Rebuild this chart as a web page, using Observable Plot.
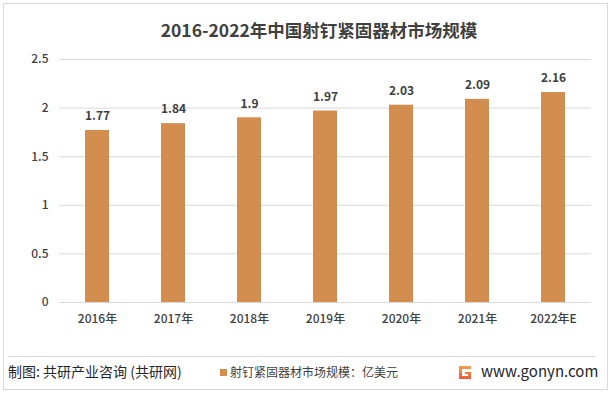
<!DOCTYPE html>
<html><head><meta charset="utf-8">
<script src="https://cdn.jsdelivr.net/npm/d3@7"></script>
<script src="https://cdn.jsdelivr.net/npm/@observablehq/plot@0.6"></script>
<style>
body{margin:0;background:#fff;font-family:"Noto Sans CJK SC","Noto Sans",sans-serif;}
#wrap{position:relative;width:612px;height:393px;overflow:hidden;background:#fff;}
#frame{position:absolute;left:3px;top:3px;width:603px;height:385px;border:1px solid #d9d9d9;}
#title{position:absolute;left:13px;top:17px;width:612px;text-align:center;font-size:17.5px;font-weight:bold;color:#404040;}
#chart{position:absolute;left:0;top:40px;}
#sep{position:absolute;left:8px;top:356px;width:587px;height:1px;background:#d9d9d9;}
.foot{position:absolute;top:361px;font-size:14px;color:#262626;white-space:nowrap;}
#legend{position:absolute;left:220px;top:363px;font-size:12px;color:#404040;white-space:nowrap;}
#legend span{display:inline-block;width:7px;height:7px;background:#D38D4E;margin-right:3px;vertical-align:1px;}
#logo{position:absolute;left:458px;top:364px;width:14px;height:16px;}
#site{position:absolute;left:481px;top:360px;font-size:15px;color:#262626;}
</style></head>
<body>
<div id="wrap">
<div id="frame"></div>
<div id="title">2016-2022年中国射钉紧固器材市场规模</div>
<div id="chart"></div>
<div id="sep"></div>
<div class="foot" style="left:8px;">制图: 共研产业咨询 (共研网)</div>
<div id="legend"><span></span>射钉紧固器材市场规模：亿美元</div>
<svg id="logo" viewBox="0 0 14 16"><defs><linearGradient id="lg" x1="0" y1="0" x2="0" y2="1"><stop offset="0" stop-color="#f6a04d"/><stop offset="1" stop-color="#ef5a3a"/></linearGradient></defs><path d="M1 2 H13 V5 H4 V12 H10 V10 H7 V8 H13 V15 H1 Z" fill="url(#lg)"/></svg>
<div id="site">www.gonyn.com</div>
</div>
<script>
const years = ["2016年","2017年","2018年","2019年","2020年","2021年","2022年E"];
const values = [1.77,1.84,1.9,1.97,2.03,2.09,2.16];
const yTicks = [0,0.5,1,1.5,2,2.5];
const data = years.map((y,i)=>({year:y,value:values[i]}));
const chart = Plot.plot({
  width:612, height:300,
  marginTop:19, marginBottom:38, marginLeft:59, marginRight:21,
  style:{fontFamily:'"Noto Sans CJK SC","Noto Sans",sans-serif',fontSize:"12px",color:"#404040",background:"transparent"},
  x:{domain:years,paddingInner:0.68,paddingOuter:0.34,label:null},
  y:{domain:[0,2.5],label:null},
  marks:[
    Plot.gridY(yTicks,{stroke:"#d9d9d9",strokeOpacity:1}),
    Plot.barY(data,{x:"year",y:"value",fill:"#D38D4E"}),
    Plot.text(data,{x:"year",y:"value",text:d=>String(d.value),dy:-14,fontWeight:"bold",fontSize:12,fill:"#404040"}),
    Plot.axisY(yTicks,{tickSize:0,tickPadding:11,label:null,fontSize:12,fill:"#404040",fontWeight:500,tickFormat:d=>String(d)}),
    Plot.axisX({tickSize:0,tickPadding:12,label:null,fontSize:12,fill:"#404040",fontWeight:500})
  ]
});
document.getElementById("chart").appendChild(chart);
</script>
</body></html>
